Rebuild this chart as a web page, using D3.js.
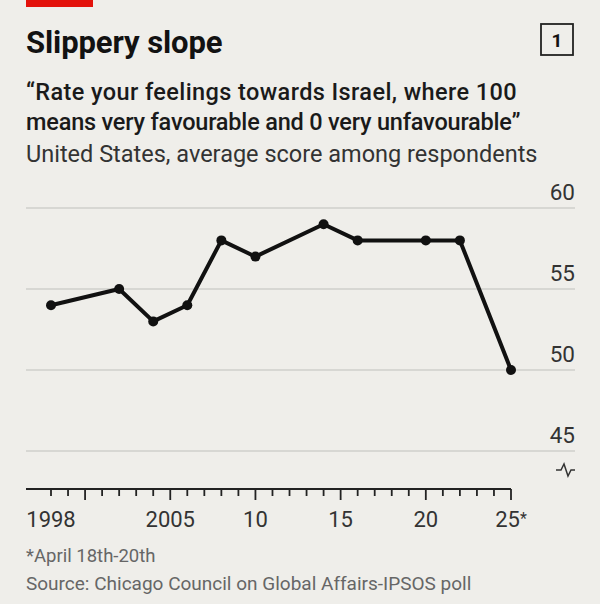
<!DOCTYPE html>
<html>
<head>
<meta charset="utf-8">
<script src="https://cdn.jsdelivr.net/npm/d3@7"></script>
<style>
  html, body { margin: 0; padding: 0; background: #efeeea; }
  svg { display: block; }
  text { font-family: Roboto, "Liberation Sans", sans-serif; }
</style>
</head>
<body>
<div class="chart"></div>
<script>
// poll years and average scores
const years = [1998, 2002, 2004, 2006, 2008, 2010, 2014, 2016, 2020, 2022, 2025];
const scores = [54, 55, 53, 54, 58, 57, 59, 58, 58, 58, 50];
const yTicks = [45, 50, 55, 60];
const xLabelYears = [1998, 2005, 2010, 2015, 2020, 2025];
const xLabels = ["1998", "2005", "10", "15", "20", "25"];

const total_width = 600;
const total_height = 604;
const left = 26;
const right = 575;

const svg = d3.select(".chart")
    .append("svg")
    .attr("width", total_width)
    .attr("height", total_height);

svg.append("rect")
    .attr("width", total_width)
    .attr("height", total_height)
    .attr("fill", "#efeeea");

// red tag
svg.append("rect")
    .attr("x", left).attr("y", 0)
    .attr("width", 67).attr("height", 7)
    .attr("fill", "#e3120b");

svg.append("text")
    .attr("x", left).attr("y", 53)
    .attr("font-size", "31px")
    .attr("font-weight", 700)
    .attr("letter-spacing", "-0.1px")
    .attr("fill", "#121212")
    .text("Slippery slope");

// chart number box
svg.append("rect")
    .attr("x", 541).attr("y", 24)
    .attr("width", 32).attr("height", 31)
    .attr("fill", "none")
    .attr("stroke", "#222")
    .attr("stroke-width", 1.8);
svg.append("text")
    .attr("x", 557).attr("y", 47)
    .attr("text-anchor", "middle")
    .attr("font-size", "19px")
    .attr("font-weight", 700)
    .attr("fill", "#121212")
    .text("1");

svg.append("text")
    .attr("x", left).attr("y", 100)
    .attr("font-size", "23.5px")
    .attr("font-weight", 500)
    .attr("letter-spacing", "0.4px")
    .attr("fill", "#1a1a1a")
    .text("\u201CRate your feelings towards Israel, where 100");
svg.append("text")
    .attr("x", left).attr("y", 130)
    .attr("font-size", "23.5px")
    .attr("font-weight", 500)
    .attr("letter-spacing", "-0.2px")
    .attr("fill", "#1a1a1a")
    .text("means very favourable and 0 very unfavourable\u201D");
svg.append("text")
    .attr("x", left).attr("y", 162)
    .attr("font-size", "23.5px")
    .attr("letter-spacing", "0px")
    .attr("fill", "#333")
    .text("United States, average score among respondents");

const x = d3.scaleLinear()
    .domain([1998, 2025])
    .range([51, 511]);

const y = d3.scaleLinear()
    .domain([45, 60])
    .range([451, 208]);

// gridlines and labels
svg.selectAll(".grid")
    .data(yTicks)
    .enter()
    .append("line")
    .attr("class", "grid")
    .attr("x1", left).attr("x2", right)
    .attr("y1", d => y(d)).attr("y2", d => y(d))
    .attr("stroke", "#cfcfcb")
    .attr("stroke-width", 1.5);

svg.selectAll(".ylab")
    .data(yTicks)
    .enter()
    .append("text")
    .attr("class", "ylab")
    .attr("x", right)
    .attr("y", d => y(d) - 8)
    .attr("text-anchor", "end")
    .attr("font-size", "22.5px")
    .attr("fill", "#333")
    .text(d => d);

// axis break mark
svg.append("path")
    .attr("d", "M556,470 L561,470 L564,464 L568,476 L571,470 L575,470")
    .attr("fill", "none")
    .attr("stroke", "#333")
    .attr("stroke-width", 1.5);

// x axis
const axisY = 489;
svg.append("line")
    .attr("x1", left).attr("x2", x(2025))
    .attr("y1", axisY).attr("y2", axisY)
    .attr("stroke", "#222")
    .attr("stroke-width", 2);

svg.selectAll(".xtick")
    .data(d3.range(1998, 2026))
    .enter()
    .append("line")
    .attr("class", "xtick")
    .attr("x1", d => x(d)).attr("x2", d => x(d))
    .attr("y1", axisY)
    .attr("y2", d => d % 5 === 0 ? axisY + 11 : axisY + 7)
    .attr("stroke", "#222")
    .attr("stroke-width", 1.8);

svg.selectAll(".xlab")
    .data(xLabelYears)
    .enter()
    .append("text")
    .attr("class", "xlab")
    .attr("x", d => x(d))
    .attr("y", 527)
    .attr("text-anchor", "middle")
    .attr("font-size", "22px")
    .attr("fill", "#333")
    .text((d, i) => xLabels[i])
    .filter(d => d === 2025)
    .append("tspan")
    .attr("font-size", "16px")
    .attr("dy", -3)
    .text("*");

// the line
const points = years.map((yr, i) => ({year: yr, score: scores[i]}));
svg.append("path")
    .datum(points)
    .attr("fill", "none")
    .attr("stroke", "#111")
    .attr("stroke-width", 4)
    .attr("stroke-linejoin", "round")
    .attr("d", d3.line().x(d => x(d.year)).y(d => y(d.score)));

svg.selectAll(".dot")
    .data(points)
    .enter()
    .append("circle")
    .attr("class", "dot")
    .attr("cx", d => x(d.year))
    .attr("cy", d => y(d.score))
    .attr("r", 5)
    .attr("fill", "#111");

// footnotes
svg.append("text")
    .attr("x", left).attr("y", 562)
    .attr("font-size", "18.5px")
    .attr("fill", "#666")
    .text("*April 18th-20th");
svg.append("text")
    .attr("x", left).attr("y", 590)
    .attr("font-size", "19px")
    .attr("fill", "#666")
    .text("Source: Chicago Council on Global Affairs-IPSOS poll");
</script>
</body>
</html>
